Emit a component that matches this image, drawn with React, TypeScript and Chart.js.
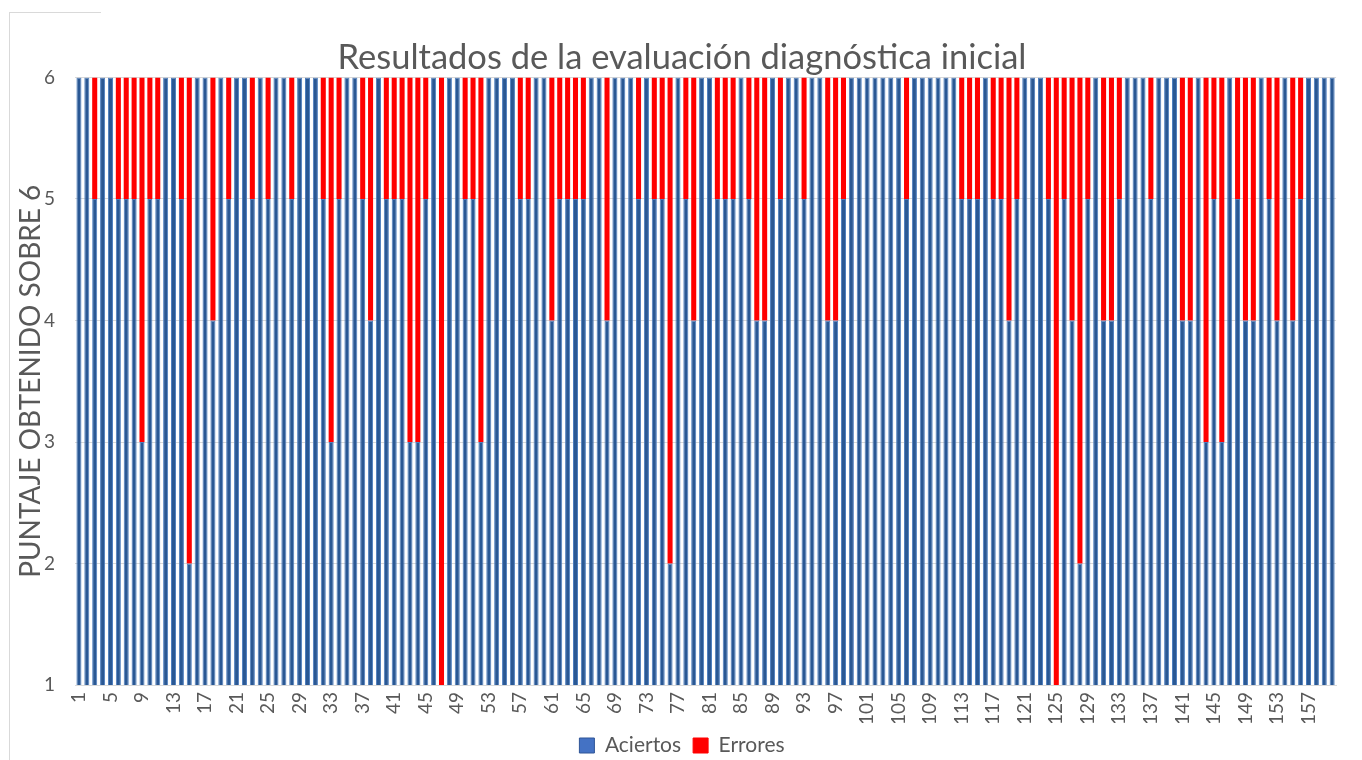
import React, { useEffect, useRef } from "react";
import { Chart, registerables } from "chart.js";

Chart.register(...registerables);

const categories: string[] = Array.from({ length: 160 }, (_, i) => String(i + 1));

const aciertos: number[] = [
  6, 6, 5, 6, 6, 5, 5, 5, 3, 5,
  5, 6, 6, 5, 2, 6, 6, 4, 6, 5,
  6, 6, 5, 6, 5, 6, 6, 5, 6, 6,
  6, 5, 3, 5, 6, 6, 5, 4, 6, 5,
  5, 5, 3, 3, 5, 6, 1, 6, 6, 5,
  5, 3, 6, 6, 6, 6, 5, 5, 6, 6,
  4, 5, 5, 5, 5, 6, 6, 4, 6, 6,
  6, 5, 6, 5, 5, 2, 6, 5, 4, 6,
  6, 5, 5, 5, 6, 5, 4, 4, 6, 5,
  6, 6, 5, 6, 6, 4, 4, 5, 6, 6,
  6, 6, 6, 6, 6, 5, 6, 6, 6, 6,
  6, 6, 5, 5, 5, 6, 5, 5, 4, 5,
  6, 6, 6, 5, 1, 5, 4, 2, 5, 6,
  4, 4, 5, 6, 6, 6, 5, 6, 6, 6,
  4, 4, 6, 3, 5, 3, 6, 5, 4, 4,
  6, 5, 4, 6, 4, 5, 6, 6, 6, 6,
];

const errores: number[] = [
  0, 0, 1, 0, 0, 1, 1, 1, 3, 1,
  1, 0, 0, 1, 4, 0, 0, 2, 0, 1,
  0, 0, 1, 0, 1, 0, 0, 1, 0, 0,
  0, 1, 3, 1, 0, 0, 1, 2, 0, 1,
  1, 1, 3, 3, 1, 0, 5, 0, 0, 1,
  1, 3, 0, 0, 0, 0, 1, 1, 0, 0,
  2, 1, 1, 1, 1, 0, 0, 2, 0, 0,
  0, 1, 0, 1, 1, 4, 0, 1, 2, 0,
  0, 1, 1, 1, 0, 1, 2, 2, 0, 1,
  0, 0, 1, 0, 0, 2, 2, 1, 0, 0,
  0, 0, 0, 0, 0, 1, 0, 0, 0, 0,
  0, 0, 1, 1, 1, 0, 1, 1, 2, 1,
  0, 0, 0, 1, 5, 1, 2, 4, 1, 0,
  2, 2, 1, 0, 0, 0, 1, 0, 0, 0,
  2, 2, 0, 3, 1, 3, 0, 1, 2, 2,
  0, 1, 2, 0, 2, 1, 0, 0, 0, 0,
];

const yTicks: number[] = [1, 2, 3, 4, 5, 6];

const TITLE = "Resultados de la evaluación diagnóstica inicial";
const Y_TITLE = "PUNTAJE OBTENIDO SOBRE 6";
const SERIES_NAMES = ["Aciertos", "Errores"];

const FONT = "Lato, 'Liberation Sans', sans-serif";
const TEXT = "#595959";

export default function App() {
  const ref = useRef<HTMLCanvasElement | null>(null);

  useEffect(() => {
    if (!ref.current) return;
    const chart = new Chart(ref.current, {
      type: "bar",
      data: {
        labels: categories,
        datasets: [
          {
            label: SERIES_NAMES[0],
            data: aciertos,
            backgroundColor: "#2a5894",
            borderColor: "#4f7fbf",
            borderWidth: 1,
            borderSkipped: "start",
            barPercentage: 0.64,
            categoryPercentage: 1,
          },
          {
            label: SERIES_NAMES[1],
            data: errores,
            backgroundColor: "#ff0000",
            borderColor: "#ff0000",
            borderWidth: 0,
            barPercentage: 0.64,
            categoryPercentage: 1,
          },
        ],
      },
      options: {
        responsive: false,
        animation: false,
        devicePixelRatio: 1,
        layout: { padding: { left: 17, right: 15, top: 41, bottom: -6 } },
        plugins: {
          title: {
            display: true,
            text: TITLE,
            color: TEXT,
            font: { family: FONT, size: 34.5, weight: "normal", lineHeight: 1 },
            padding: { top: 0, bottom: 2 },
          },
          legend: {
            display: true,
            position: "bottom",
            labels: {
              color: TEXT,
              font: { family: FONT, size: 21 },
              boxWidth: 15,
              boxHeight: 15,
              padding: 12,
              generateLabels: (c: any) => {
                const items = Chart.defaults.plugins.legend.labels.generateLabels(c);
                items.forEach((it: any, i: number) => {
                  it.fillStyle = i === 0 ? "#4472c4" : "#ff0000";
                  it.strokeStyle = i === 0 ? "#2f5597" : "#ff0000";
                  it.lineWidth = 1;
                });
                return items;
              },
            },
          },
          tooltip: { enabled: false },
        },
        scales: {
          x: {
            stacked: true,
            grid: { display: false, drawTicks: false },
            border: { display: true, color: "#d9d9d9" },
            ticks: {
              autoSkip: false,
              maxRotation: 90,
              minRotation: 90,
              color: TEXT,
              padding: 7,
              font: { family: FONT, size: 19 },
              callback: (_v: any, idx: number) => (idx % 4 === 0 ? categories[idx] : ""),
            },
            afterFit: (s: any) => {
              s.height = 38;
            },
          },
          y: {
            stacked: true,
            min: yTicks[0],
            max: yTicks[yTicks.length - 1],
            afterBuildTicks: (s: any) => {
              s.ticks = yTicks.map((v) => ({ value: v }));
            },
            grid: { color: "#d9d9d9", drawTicks: false },
            border: { display: false },
            ticks: {
              color: TEXT,
              padding: 20,
              font: { family: FONT, size: 19 },
            },
            title: {
              display: true,
              text: Y_TITLE,
              color: TEXT,
              font: { family: FONT, size: 28, lineHeight: 1 },
              padding: { top: 0, bottom: 0 },
            },
            afterFit: (s: any) => {
              s.width = 58;
            },
          },
        },
      },
    });
    return () => chart.destroy();
  }, []);

  return (
    <div style={{ position: "absolute", left: 0, top: 0, width: 1362, height: 760, background: "#fff" }}>
      <div style={{ position: "absolute", left: 9, top: 12, width: 1, height: 748, background: "#d9d9d9" }} />
      <div style={{ position: "absolute", left: 9, top: 12, width: 92, height: 1, background: "#d9d9d9" }} />
      <canvas ref={ref} width={1362} height={760} style={{ position: "absolute", left: 0, top: 0 }} />
    </div>
  );
}
